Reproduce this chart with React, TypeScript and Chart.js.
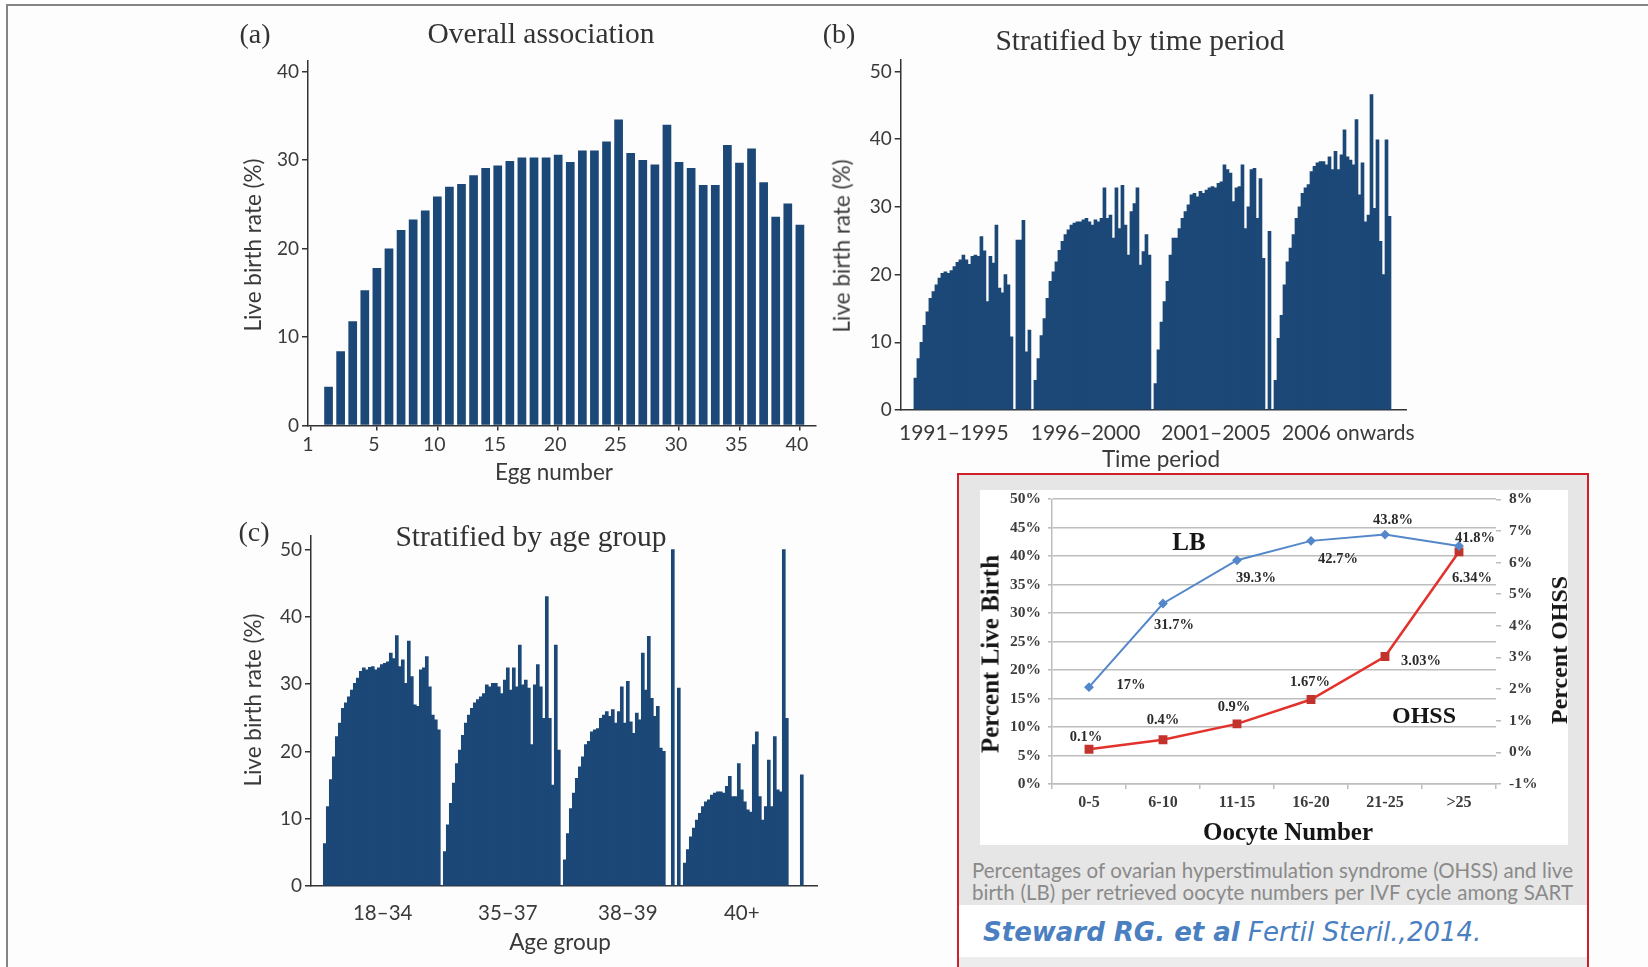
import React, { useEffect, useRef } from 'react';
import { Chart, registerables } from 'chart.js';

Chart.register(...registerables);

// ---------------- data ----------------
const eggNumbers = [1, 2, 3, 4, 5, 6, 7, 8, 9, 10, 11, 12, 13, 14, 15, 16, 17, 18, 19, 20, 21, 22, 23, 24, 25, 26, 27, 28, 29, 30, 31, 32, 33, 34, 35, 36, 37, 38, 39, 40];
const overallLiveBirthRate = [4.4, 8.4, 11.8, 15.3, 17.8, 20.0, 22.1, 23.3, 24.3, 25.9, 27.0, 27.3, 28.3, 29.1, 29.4, 29.9, 30.3, 30.3, 30.3, 30.6, 29.8, 31.1, 31.1, 32.1, 34.6, 30.8, 30.0, 29.5, 34.0, 29.8, 29.1, 27.2, 27.2, 31.7, 29.7, 31.3, 27.5, 23.6, 25.1, 22.7];
const eggAxisTicks = [5, 10, 15, 20, 25, 30, 35, 40];

const timePeriods = ['1991–1995', '1996–2000', '2001–2005', '2006 onwards'];
const rate1991to1995 = [4.7, 7.6, 10, 12.5, 14.5, 16.5, 17.5, 18.5, 19.5, 20.2, 20.4, 20.2, 20.6, 21.2, 21.8, 22.2, 22.9, 22.2, 21.5, 22.7, 22.9, 22.7, 25.6, 23.5, 16, 22.7, 21.7, 27.3, 18, 17.3, 20, 18.5, 10.8, 0, 25.1, 25.1, 28, 8.6, 11.8, 0];
const rate1996to2000 = [4.4, 7.6, 11, 13.5, 16.5, 19, 20.4, 21.9, 23.6, 24.9, 25.9, 26.6, 27.3, 27.6, 27.8, 27.8, 28.1, 28.3, 27.8, 27.3, 28.1, 27.8, 28.3, 32.8, 28.3, 28.8, 25.4, 32.8, 26.8, 33.2, 27.3, 22.9, 29.3, 30.5, 32.8, 21.4, 23.4, 25.9, 22.9, 0];
const rate2001to2005 = [3.9, 8.9, 13, 16, 19, 22.9, 25.4, 25.4, 26.8, 28.3, 29.3, 30.3, 31.8, 32, 31.5, 32.3, 32, 32.5, 32.8, 33, 32.8, 33.5, 33.7, 36.2, 35.5, 35, 30.8, 32.8, 33, 36.2, 26.8, 30, 35.5, 35.7, 28.3, 34.2, 22.4, 0, 26.4, 0];
const rate2006onwards = [4.4, 10.6, 14, 18.5, 21.9, 23.9, 25.9, 28.3, 30, 32, 32.8, 33.3, 35.2, 36, 36.5, 36.7, 36.7, 36.2, 37.4, 35.5, 38.2, 35.5, 37.7, 41.4, 37.4, 36.9, 36.2, 42.9, 31.8, 36.5, 27.8, 28.8, 46.6, 29.8, 39.9, 24.9, 20, 39.9, 28.6, 0];

const ageGroups = ['18–34', '35–37', '38–39', '40+'];
const rateAge18to34 = [6.3, 11.8, 15.8, 19.2, 22.2, 24.2, 26.4, 27.2, 28.1, 29.1, 30.1, 30.9, 31.9, 32.4, 32.1, 32.5, 32.6, 32.1, 32.4, 32.9, 33.1, 33.3, 34.6, 33.8, 37.2, 32.6, 33.6, 30.1, 36.4, 31.1, 26.9, 26.7, 32.1, 32.4, 34.1, 29.6, 25.4, 24.7, 23.2, 0];
const rateAge35to37 = [5.1, 9.1, 12.3, 15.3, 18.2, 20.2, 22.4, 24.2, 25.4, 26.4, 27.2, 27.7, 28.1, 28.6, 29.9, 29.6, 30.1, 30.1, 29.6, 28.6, 30.6, 32.4, 29.1, 32.4, 29.6, 35.8, 29.9, 30.6, 29.4, 21, 29.9, 32.9, 29.6, 24.9, 43, 24.9, 15, 35.8, 20.2, 0];
const rateAge38to39 = [3.9, 7.8, 11.5, 13.8, 16, 17.7, 19.2, 21, 21.5, 22.9, 23.2, 23.4, 24.9, 25.4, 25.9, 25.2, 26.2, 24.2, 25.9, 29.6, 24.2, 30.4, 24.4, 22.7, 25.7, 24.7, 34.6, 29.1, 37.1, 27.9, 25.2, 26.7, 20.5, 20, 0, 0, 50, 0, 29.4, 0];
const rateAge40plus = [3.4, 5.4, 7.3, 8.6, 9.8, 10.8, 11.8, 12.5, 12.8, 13.5, 13.8, 14, 14, 13.8, 14.8, 16.3, 13.3, 13.3, 18.2, 14.3, 12.5, 11.3, 11, 21, 22.9, 13.3, 9.8, 11.8, 18.7, 11.8, 22.2, 14.3, 14, 50, 24.9, 0, 0, 0, 0, 16.5];

const oocyteGroups = ['0-5', '6-10', '11-15', '16-20', '21-25', '>25'];
const liveBirthPct = [17, 31.7, 39.3, 42.7, 43.8, 41.8];
const ohssPct = [0.1, 0.4, 0.9, 1.67, 3.03, 6.34];

// ---------------- styles ----------------
const SANS = 'Lato, "Open Sans", sans-serif';
const SERIF = '"Liberation Serif", "DejaVu Serif", serif';
const BAR = '#1c4878';
const AXIS = '#333333';
const TICK = '#3a3a3a';

const baseOpts = {
  animation: false as const,
  responsive: false,
  maintainAspectRatio: false,
  devicePixelRatio: 1,
  events: [] as any[],
  plugins: { legend: { display: false }, tooltip: { enabled: false }, title: { display: false } },
};

function yAxis(max: number, width: number) {
  return {
    min: 0,
    max,
    afterFit: (s: any) => { s.width = width; },
    ticks: { stepSize: 10, includeBounds: false, padding: 3, color: TICK, font: { family: SANS, size: 19 } },
    grid: { drawOnChartArea: false, drawTicks: true, tickLength: 6, color: AXIS, lineWidth: 1.5 },
    border: { display: true, color: AXIS, width: 1.5 },
  };
}

function groupXAxis(min: number, max: number, height: number, pos: number[], labels: string[], pad: number, size: number) {
  return {
    type: 'linear' as const,
    min,
    max,
    offset: false,
    afterFit: (s: any) => { s.height = height; },
    afterBuildTicks: (s: any) => { s.ticks = pos.map((v) => ({ value: v })); },
    ticks: {
      autoSkip: false, maxRotation: 0, padding: pad, color: TICK, font: { family: SANS, size },
      callback: (_v: any, i: number) => labels[i],
    },
    grid: { display: false, drawTicks: false, offset: false },
    border: { display: true, color: AXIS, width: 1.5 },
  };
}

function toPoints(values: number[]) {
  return values.map((v, i) => ({ x: i, y: v }));
}

// panel a
function configA(): any {
  const xMin = -0.7;
  const firstTick = -0.45;
  return {
    type: 'bar',
    data: {
      datasets: [{
        data: eggNumbers.map((e, i) => ({ x: e, y: overallLiveBirthRate[i] })),
        backgroundColor: BAR, borderWidth: 0, barPercentage: 0.72, categoryPercentage: 1,
      }],
    },
    options: {
      ...baseOpts,
      layout: { padding: { top: 21, right: 24.4, left: 0, bottom: 0 } },
      scales: {
        x: {
          type: 'linear', min: xMin, max: 41.3, offset: false,
          afterFit: (s: any) => { s.height = 44.4; },
          afterBuildTicks: (s: any) => { s.ticks = [firstTick, ...eggAxisTicks].map((v) => ({ value: v })); },
          ticks: {
            autoSkip: false, maxRotation: 0, padding: 2.6, color: TICK, font: { family: SANS, size: 19.5 },
            labelOffset: -3,
            callback: (v: any, i: number) => (i === 0 ? String(eggNumbers[0]) : String(v)),
          },
          grid: { drawOnChartArea: false, drawTicks: true, tickLength: 5, color: AXIS, lineWidth: 1.5, offset: false },
          border: { display: true, color: AXIS, width: 1.5 },
        },
        y: yAxis(41.2, 88),
      },
    },
  };
}

// panel b
function configB(): any {
  const all = [...rate1991to1995, ...rate1996to2000, ...rate2001to2005, ...rate2006onwards];
  return {
    type: 'bar',
    data: { datasets: [{ data: toPoints(all), backgroundColor: BAR, borderWidth: 0, barPercentage: 1, categoryPercentage: 1 }] },
    options: {
      ...baseOpts,
      layout: { padding: { top: 20, right: 34, left: 0, bottom: 0 } },
      scales: {
        x: groupXAxis(-4.9, 163.5, 50, [12.8, 56.7, 100.2, 144.3], timePeriods, 11, 21),
        y: yAxis(51.7, 80.7),
      },
    },
  };
}

// panel c
function configC(): any {
  const all = [...rateAge18to34, ...rateAge35to37, ...rateAge38to39, ...rateAge40plus];
  return {
    type: 'bar',
    data: { datasets: [{ data: toPoints(all), backgroundColor: BAR, borderWidth: 0, barPercentage: 1, categoryPercentage: 1 }] },
    options: {
      ...baseOpts,
      layout: { padding: { top: 21, right: 22.3, left: 0, bottom: 0 } },
      scales: {
        x: groupXAxis(-4.6, 164.3, 50, [19.3, 61, 101, 139], ageGroups, 15, 20.5),
        y: yAxis(52, 91),
      },
    },
  };
}

// panel d
const LB_COLOR = '#5387c9';
const OHSS_LINE = '#e3322c';
const OHSS_MARK = '#c2332e';
const GRID = '#bdbdbd';
const labelOffsets = [
  [[42, -2], [11, 22], [19, 18], [27, 18], [8, -14], [16, -8]],
  [[-3, -12], [0, -19], [-3, -17], [-1, -17], [36, 5], [13, 26]],
];
const pointLabelPlugin = {
  id: 'pointLabels',
  afterDatasetsDraw(chart: any) {
    const ctx = chart.ctx;
    chart.data.datasets.forEach((ds: any, di: number) => {
      const meta = chart.getDatasetMeta(di);
      meta.data.forEach((pt: any, i: number) => {
        const [dx, dy] = labelOffsets[di][i];
        ctx.save();
        ctx.font = `bold 14.5px ${SERIF}`;
        ctx.fillStyle = '#2a2a2a';
        ctx.textAlign = 'center';
        ctx.textBaseline = 'middle';
        ctx.fillText(`${ds.data[i]}%`, pt.x + dx, pt.y + dy);
        ctx.restore();
      });
    });
  },
};

function configD(): any {
  const yFont = { family: SERIF, size: 15.5, weight: 'bold' as const };
  const xFont = { family: SERIF, size: 16, weight: 'bold' as const };
  return {
    type: 'line',
    data: {
      labels: oocyteGroups,
      datasets: [
        {
          label: 'LB', data: liveBirthPct, yAxisID: 'y', borderColor: LB_COLOR, backgroundColor: LB_COLOR,
          borderWidth: 2, pointStyle: 'rectRot', pointRadius: 3.5, tension: 0,
        },
        {
          label: 'OHSS', data: ohssPct, yAxisID: 'y2', borderColor: OHSS_LINE, backgroundColor: OHSS_MARK,
          pointBackgroundColor: OHSS_MARK, pointBorderColor: OHSS_MARK,
          borderWidth: 2.5, pointStyle: 'rect', pointRadius: 4.5, tension: 0,
        },
      ],
    },
    options: {
      ...baseOpts,
      layout: { padding: { top: 15, right: 0, left: 0, bottom: 0 } },
      scales: {
        x: {
          offset: true,
          afterFit: (s: any) => { s.height = 61; },
          ticks: { autoSkip: false, maxRotation: 0, padding: 4, color: '#3c3c3c', font: xFont },
          grid: { offset: true, drawOnChartArea: false, drawTicks: true, tickLength: 5, color: GRID, lineWidth: 1.5 },
          border: { display: true, color: GRID, width: 1.5 },
        },
        y: {
          position: 'left', min: 0, max: 50,
          afterFit: (s: any) => { s.width = 72; },
          ticks: { stepSize: 5, padding: 7, color: '#3c3c3c', font: yFont, callback: (v: any) => `${v}%` },
          grid: { color: GRID, lineWidth: 1.6, drawTicks: true, tickLength: 4 },
          border: { display: true, color: GRID, width: 1.5 },
        },
        y2: {
          position: 'right', min: -1, max: 8,
          afterFit: (s: any) => { s.width = 72; },
          ticks: { stepSize: 1, padding: 8, color: '#3c3c3c', font: yFont, callback: (v: any) => `${v}%` },
          grid: { drawOnChartArea: false, drawTicks: true, tickLength: 5, color: GRID, lineWidth: 1.5 },
          border: { display: false },
        },
      },
    },
    plugins: [pointLabelPlugin],
  };
}

// ---------------- components ----------------
function ChartCanvas(props: { left: number; top: number; width: number; height: number; make: () => any }) {
  const ref = useRef<HTMLCanvasElement>(null);
  useEffect(() => {
    const chart = new Chart(ref.current as HTMLCanvasElement, props.make());
    return () => chart.destroy();
  }, []);
  return (
    <canvas
      ref={ref}
      width={props.width}
      height={props.height}
      style={{ position: 'absolute', left: props.left, top: props.top, width: props.width, height: props.height }}
    />
  );
}

function Txt(props: { x: number; y: number; rotate?: boolean; style?: React.CSSProperties; children: React.ReactNode }) {
  return (
    <div
      style={{
        position: 'absolute', left: props.x, top: props.y, whiteSpace: 'nowrap', lineHeight: 1,
        transform: `translate(-50%, -50%)${props.rotate ? ' rotate(-90deg)' : ''}`,
        ...props.style,
      }}
    >
      {props.children}
    </div>
  );
}

const titleStyle: React.CSSProperties = { fontFamily: SERIF, fontSize: 29.5, color: '#333' };
const letterStyle: React.CSSProperties = { fontFamily: SERIF, fontSize: 28, color: '#333' };
const axisTitleStyle: React.CSSProperties = { fontFamily: SANS, fontSize: 22.5, color: '#3a3a3a' };
const dBold = (size: number): React.CSSProperties => ({ fontFamily: SERIF, fontSize: size, fontWeight: 'bold', color: '#161616' });
const captionLine: React.CSSProperties = {
  fontFamily: SANS, fontSize: 20.5, color: '#8a8a8a', textAlign: 'justify', textAlignLast: 'justify', height: 22, lineHeight: '22px',
};

export default function App() {
  return (
    <div style={{ position: 'fixed', left: 0, top: 0, width: 1648, height: 967, background: '#fff', overflow: 'hidden' }}>
      <div style={{ position: 'absolute', left: 6, top: 4, width: 1700, height: 1000, borderLeft: '2px solid #858585', borderTop: '2px solid #858585', background: '#fdfdfd' }} />

      {/* panel d frame */}
      <div style={{ position: 'absolute', left: 957, top: 473, width: 632, height: 520, boxSizing: 'border-box', border: '2px solid #cf2027', background: '#fff' }} />
      <div style={{ position: 'absolute', left: 959, top: 475, width: 628, height: 430, background: '#e6e6e6' }} />
      <div style={{ position: 'absolute', left: 980, top: 490, width: 588, height: 355, background: '#fff' }} />
      <div style={{ position: 'absolute', left: 959, top: 957, width: 628, height: 12, background: '#ededed' }} />

      <ChartCanvas left={220} top={40} width={620} height={430} make={configA} />
      <ChartCanvas left={820} top={40} width={620} height={420} make={configB} />
      <ChartCanvas left={220} top={515} width={620} height={421} make={configC} />
      <ChartCanvas left={980} top={482} width={588} height={363} make={configD} />

      {/* panel a texts */}
      <Txt x={255} y={34} style={letterStyle}>(a)</Txt>
      <Txt x={541} y={34} style={titleStyle}>Overall association</Txt>
      <Txt x={253} y={245} rotate style={axisTitleStyle}>Live birth rate (%)</Txt>
      <Txt x={554} y={472} style={axisTitleStyle}>Egg number</Txt>

      {/* panel b texts */}
      <Txt x={839} y={34} style={letterStyle}>(b)</Txt>
      <Txt x={1140} y={41} style={titleStyle}>Stratified by time period</Txt>
      <Txt x={842} y={246} rotate style={axisTitleStyle}>Live birth rate (%)</Txt>
      <Txt x={1161} y={459} style={axisTitleStyle}>Time period</Txt>

      {/* panel c texts */}
      <Txt x={254} y={532} style={letterStyle}>(c)</Txt>
      <Txt x={531} y={537} style={titleStyle}>Stratified by age group</Txt>
      <Txt x={253} y={700} rotate style={axisTitleStyle}>Live birth rate (%)</Txt>
      <Txt x={560} y={942} style={axisTitleStyle}>Age group</Txt>

      {/* panel d texts */}
      <Txt x={990} y={654} rotate style={dBold(25)}>Percent Live Birth</Txt>
      <Txt x={1559} y={650} rotate style={dBold(24)}>Percent OHSS</Txt>
      <Txt x={1288} y={831} style={dBold(25)}>Oocyte Number</Txt>
      <Txt x={1189} y={541} style={dBold(25)}>LB</Txt>
      <Txt x={1424} y={715} style={dBold(24)}>OHSS</Txt>

      <div style={{ position: 'absolute', left: 972, top: 859, width: 601 }}>
        <div style={captionLine}>Percentages of ovarian hyperstimulation syndrome (OHSS) and live</div>
        <div style={captionLine}>birth (LB) per retrieved oocyte numbers per IVF cycle among SART</div>
      </div>
      <div style={{ position: 'absolute', left: 983, top: 916, whiteSpace: 'nowrap', fontFamily: '"DejaVu Sans", Verdana, sans-serif', fontSize: 26, fontStyle: 'italic', color: '#4a7fc1', lineHeight: '32px' }}>
        <span style={{ fontWeight: 'bold' }}>Steward RG. et al</span> Fertil Steril.,2014.
      </div>
    </div>
  );
}
